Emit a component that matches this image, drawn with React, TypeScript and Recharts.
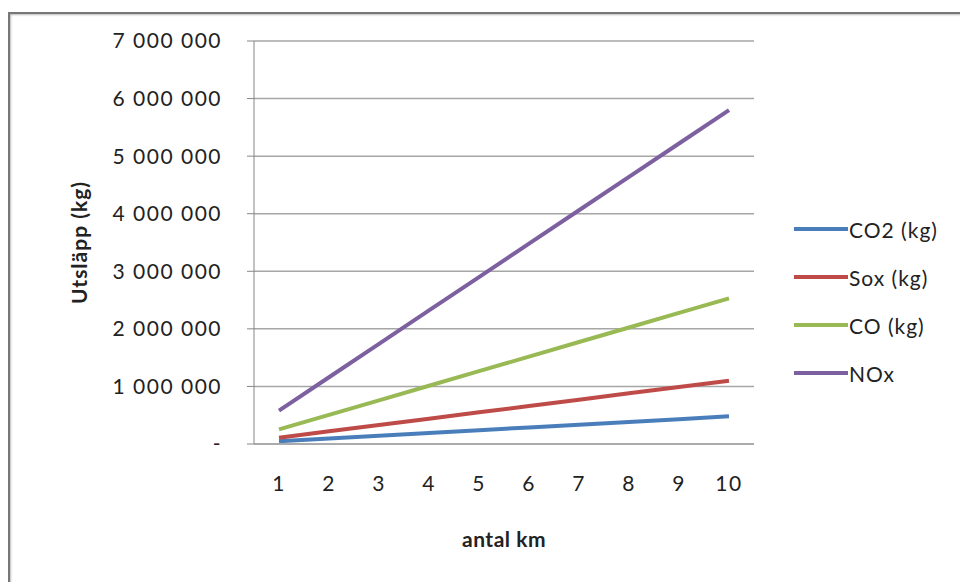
import React from 'react';
import { LineChart, Line, XAxis, YAxis, CartesianGrid, Label } from 'recharts';

const km = [1, 2, 3, 4, 5, 6, 7, 8, 9, 10];
const co2 = [48000, 96000, 144000, 192000, 240000, 288000, 336000, 384000, 432000, 480000];
const sox = [110000, 220000, 330000, 440000, 550000, 660000, 770000, 880000, 990000, 1100000];
const co = [253000, 506000, 759000, 1012000, 1265000, 1518000, 1771000, 2024000, 2277000, 2530000];
const nox = [580000, 1160000, 1740000, 2320000, 2900000, 3480000, 4060000, 4640000, 5220000, 5800000];
const yTicks = [0, 1000000, 2000000, 3000000, 4000000, 5000000, 6000000, 7000000];

const SERIES = [
  { key: 'co2', name: 'CO2 (kg)', color: '#4a7ebb' },
  { key: 'sox', name: 'Sox (kg)', color: '#be4b48' },
  { key: 'co', name: 'CO (kg)', color: '#98b954' },
  { key: 'nox', name: 'NOx', color: '#7d60a0' },
];

const data = km.map((k, i) => ({ km: k, co2: co2[i], sox: sox[i], co: co[i], nox: nox[i] }));

const FONT = 'Lato, "Open Sans", sans-serif';
const tickStyle = { fontFamily: FONT, fontSize: 21, fill: '#222', letterSpacing: 1.5 };

function fmt(v: number) {
  if (v === 0) return '-';
  return String(v).replace(/\B(?=(\d{3})+(?!\d))/g, ' ');
}

function LegendBox() {
  return (
    <div style={{ position: 'absolute', left: 794, top: 205, fontFamily: FONT, fontSize: 21, color: '#222', letterSpacing: 1 }}>
      {SERIES.map((s) => (
        <div key={s.key} style={{ display: 'flex', alignItems: 'center', height: 48 }}>
          <div style={{ width: 54, height: 4, background: s.color, marginRight: 1 }} />
          <span>{s.name}</span>
        </div>
      ))}
    </div>
  );
}

export default function App() {
  return (
    <div style={{ position: 'fixed', left: 0, top: 0, width: 960, height: 582, background: '#fff', overflow: 'hidden' }}>
      <div
        style={{
          position: 'absolute',
          left: 8,
          top: 12,
          width: 960,
          height: 600,
          borderLeft: '2px solid #777',
          borderTop: '2px solid #777',
          boxShadow: 'inset 1px 1px 2px #bbb',
        }}
      />
      <div style={{ position: 'absolute', left: 0, top: 0 }}>
        <LineChart width={960} height={582} data={data} margin={{ top: 41, right: 206, bottom: 0, left: 0 }}>
          <CartesianGrid vertical={false} stroke="#a6a6a6" strokeWidth={1.5} />
          <XAxis
            dataKey="km"
            height={138}
            padding={{ left: 25, right: 25 }}
            axisLine={{ stroke: '#a6a6a6', strokeWidth: 1.5 }}
            tickLine={false}
            tickSize={0}
            tickMargin={32}
            tick={tickStyle}
          >
            <Label
              value="antal km"
              position="insideBottom"
              offset={35}
              style={{ fontFamily: FONT, fontSize: 21, fontWeight: 'bold', fill: '#222', letterSpacing: 0.5 }}
            />
          </XAxis>
          <YAxis
            width={254}
            domain={[0, 7000000]}
            ticks={yTicks}
            tickFormatter={fmt}
            axisLine={{ stroke: '#868686' }}
            tickLine={{ stroke: '#868686' }}
            tickSize={7}
            tickMargin={25}
            tick={tickStyle}
          >
            <Label
              value="Utsläpp (kg)"
              angle={-90}
              position="insideLeft"
              offset={80}
              style={{ fontFamily: FONT, fontSize: 21, fontWeight: 'bold', fill: '#222', textAnchor: 'middle', letterSpacing: 1 }}
            />
          </YAxis>
          {SERIES.map((s) => (
            <Line
              key={s.key}
              type="linear"
              dataKey={s.key}
              name={s.name}
              stroke={s.color}
              strokeWidth={4}
              dot={false}
              isAnimationActive={false}
            />
          ))}
        </LineChart>
      </div>
      <LegendBox />
    </div>
  );
}
